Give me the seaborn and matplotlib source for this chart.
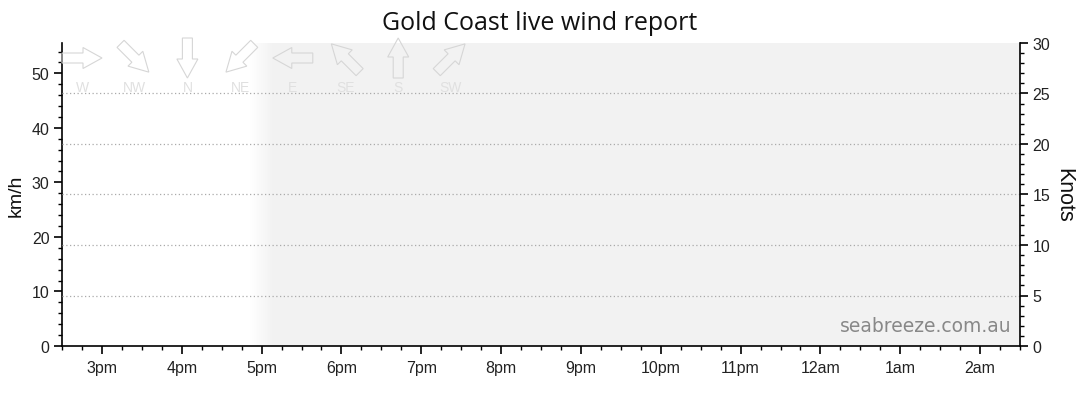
import numpy as np
import pandas as pd
import seaborn as sns
import matplotlib
matplotlib.use("Agg")
import matplotlib.pyplot as plt
from matplotlib.patches import Polygon
from matplotlib.colors import LinearSegmentedColormap

# ---- data ----
title = "Gold Coast live wind report"
hour_ticks = [15, 16, 17, 18, 19, 20, 21, 22, 23, 24, 25, 26]
hour_labels = ["3pm", "4pm", "5pm", "6pm", "7pm", "8pm", "9pm", "10pm", "11pm", "12am", "1am", "2am"]
x_start, x_end = 14.5, 26.5          # 2:30pm .. 2:30am
night_start = 17.0                   # shaded region starts at 5pm
knots_max = 30
kmh_ticks = [0, 10, 20, 30, 40, 50]
knot_ticks = [0, 5, 10, 15, 20, 25, 30]
grid_knots = [5, 10, 15, 20, 25]
directions = ["W", "NW", "N", "NE", "E", "SE", "S", "SW"]
arrow_angles = [0, 45, 90, 135, 180, 225, 270, 315]   # clockwise on screen, 0 = pointing right

# empty wind series (no observations)
wind = pd.DataFrame({"hour": pd.Series([], dtype=float), "knots": pd.Series([], dtype=float)})

sns.set_style("ticks")
plt.rcParams["font.family"] = ["Liberation Sans", "DejaVu Sans"]

W, H = 1080, 414
fig = plt.figure(figsize=(W / 100, H / 100), dpi=100)
L, R, T, B = 62, 1020, 44, 347
ax = fig.add_axes([L / W, 1 - B / H, (R - L) / W, (B - T) / H])
ax2 = ax.twinx()

kmh_max = knots_max * 1.852

# shaded night region with soft left edge
grad_w = 0.3
g = np.linspace(0, 1, 64)[None, :]
cm = LinearSegmentedColormap.from_list("g", ["#ffffff", "#f2f2f2"])
ax.imshow(g, extent=[night_start - 0.14, night_start - 0.14 + grad_w, 0, kmh_max],
          aspect="auto", cmap=cm, zorder=0, interpolation="bilinear")
ax.axvspan(night_start - 0.14 + grad_w, x_end, color="#f2f2f2", lw=0, zorder=0)
ax.set_xlim(x_start, x_end)
ax.set_ylim(0, kmh_max)

# (empty) data layer
sns.lineplot(data=wind, x="hour", y="knots", ax=ax2, color="#1f77b4")
ax2.set_ylim(0, knots_max)
ax2.set_xlim(x_start, x_end)

for k in grid_knots:
    ax2.axhline(k, color="#aaaaaa", lw=0.9, ls=(0, (1, 2)), zorder=1)

# ticks
ax.set_xticks(hour_ticks)
ax.set_xticklabels(hour_labels)
ax.set_xticks(np.arange(x_start, x_end + 0.01, 0.25), minor=True)
ax.set_yticks(kmh_ticks)
ax.set_yticks(np.arange(0, 56, 2), minor=True)
ax2.set_yticks(knot_ticks)
ax2.set_yticks(np.arange(0, 31, 1), minor=True)

for a in (ax, ax2):
    a.tick_params(which="major", length=6, width=1.2, color="black", labelsize=11.5, labelcolor="#222222", pad=3)
    a.tick_params(which="minor", length=3, width=1, color="black")
    a.set_xlabel("")
    a.set_ylabel("")
    for s in a.spines.values():
        s.set_color("black")
        s.set_linewidth(1.2)
    a.spines["top"].set_visible(False)
ax.tick_params(axis="x", which="major", pad=4)
ax2.spines["left"].set_visible(False)
ax2.spines["bottom"].set_visible(False)
ax.spines["right"].set_visible(False)

ax.set_ylabel("km/h", fontsize=14, color="#111111", labelpad=5)
ax2.set_ylabel("Knots", fontsize=15.5, color="#111111", rotation=270, labelpad=17)

ax.text(0.9915, 0.035, "seabreeze.com.au", transform=ax.transAxes, ha="right", va="bottom",
        fontsize=13.5, color="#888888", family="DejaVu Sans")

fig.text(0.5, 1 - 23 / H, title, ha="center", va="center", fontsize=18,
         family=["Open Sans", "DejaVu Sans"], color="#111111")

# direction arrows overlay (pixel coordinates)
ov = fig.add_axes([0, 0, 1, 1], facecolor="none")
ov.set_xlim(0, W)
ov.set_ylim(H, 0)
ov.axis("off")
shape = np.array([(-20, -5), (1, -5), (1, -10.5), (20, 0), (1, 10.5), (1, 5), (-20, 5)])
for i, (d, ang) in enumerate(zip(directions, arrow_angles)):
    cx, cy = 82 + i * 52.7, 59
    t = np.deg2rad(ang)
    rot = np.array([[np.cos(t), -np.sin(t)], [np.sin(t), np.cos(t)]])
    pts = shape @ rot.T + [cx, cy]
    ov.add_patch(Polygon(pts, closed=True, fill=False, edgecolor="#d6d6d6", lw=0.8))
    ov.text(cx, 88, d, ha="center", va="center", fontsize=10, color="#e0e0e0")

fig.savefig("out.png", dpi=100)
